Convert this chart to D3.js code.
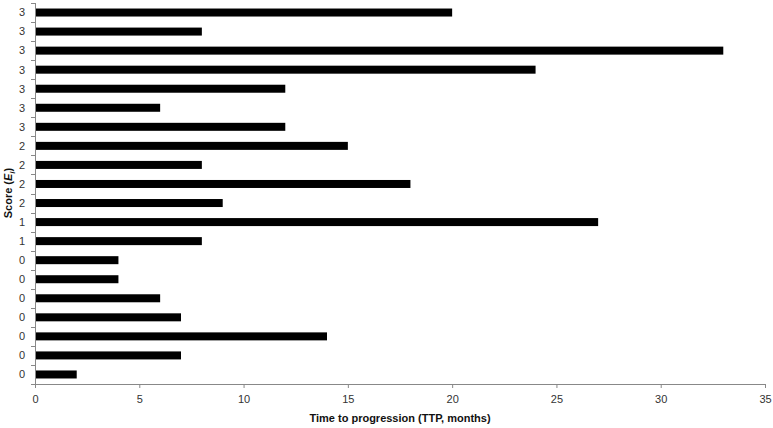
<!DOCTYPE html>
<html>
<head>
<meta charset="utf-8">
<script src="https://cdn.jsdelivr.net/npm/d3@7"></script>
<style>
  body { margin: 0; background: #fff; }
  svg text { font-family: "Liberation Sans", Arial, sans-serif; }
</style>
</head>
<body>
<div id="chart"></div>
<script>
// Bars listed from top to bottom
const scoreLabels = ["3", "3", "3", "3", "3", "3", "3", "2", "2", "2", "2", "1", "1", "0", "0", "0", "0", "0", "0", "0"];
const ttpValues = [20, 8, 33, 24, 12, 6, 12, 15, 8, 18, 9, 27, 8, 4, 4, 6, 7, 14, 7, 2];
const xTicks = [0, 5, 10, 15, 20, 25, 30, 35];

const width = 773, height = 428;
const margin = { top: 3, right: 8, bottom: 44, left: 35 };

const svg = d3.select("#chart").append("svg")
    .attr("width", width)
    .attr("height", height);

const x = d3.scaleLinear()
    .domain([0, 35])
    .range([margin.left, width - margin.right]);

const y = d3.scaleBand()
    .domain(d3.range(ttpValues.length))
    .range([margin.top, height - margin.bottom])
    .paddingInner(0.58)
    .paddingOuter(0.29);

// Bars
svg.append("g")
    .selectAll("rect")
    .data(ttpValues)
    .join("rect")
    .attr("x", x(0))
    .attr("y", (d, i) => y(i))
    .attr("width", d => x(d) - x(0))
    .attr("height", y.bandwidth())
    .attr("fill", "#000");

// Y axis with ticks at band boundaries
const yAxis = svg.append("g");
yAxis.append("line")
    .attr("x1", margin.left + 0.5).attr("x2", margin.left + 0.5)
    .attr("y1", margin.top).attr("y2", height - margin.bottom)
    .attr("stroke", "#888");
const step = y.step();
yAxis.selectAll("line.tick")
    .data(d3.range(ttpValues.length + 1))
    .join("line")
    .attr("class", "tick")
    .attr("x1", margin.left - 4).attr("x2", margin.left)
    .attr("y1", i => Math.round(margin.top + i * step) + 0.5)
    .attr("y2", i => Math.round(margin.top + i * step) + 0.5)
    .attr("stroke", "#888");
yAxis.selectAll("text")
    .data(scoreLabels)
    .join("text")
    .attr("x", 25)
    .attr("y", (d, i) => y(i) + y.bandwidth() / 2)
    .attr("dy", "0.35em")
    .attr("text-anchor", "end")
    .attr("font-size", 11)
    .attr("fill", "#333")
    .text(d => d);

// X axis
const xAxis = d3.axisBottom(x)
    .tickValues(xTicks)
    .tickSize(4)
    .tickSizeOuter(4)
    .tickPadding(7);
const gx = svg.append("g")
    .attr("transform", `translate(0,${height - margin.bottom})`)
    .call(xAxis);
gx.select(".domain").attr("stroke", "#888");
gx.selectAll(".tick line").attr("stroke", "#888");
gx.selectAll(".tick text")
    .attr("font-size", 11)
    .attr("font-family", "Liberation Sans, Arial, sans-serif")
    .attr("fill", "#333");

// Axis titles
svg.append("text")
    .attr("x", 400)
    .attr("y", 422)
    .attr("text-anchor", "middle")
    .attr("font-size", 11)
    .attr("font-weight", "bold")
    .attr("fill", "#111")
    .text("Time to progression (TTP, months)");

const yTitle = svg.append("text")
    .attr("transform", "translate(12,193) rotate(-90)")
    .attr("text-anchor", "middle")
    .attr("font-size", 11)
    .attr("font-weight", "bold")
    .attr("fill", "#111");
yTitle.append("tspan").text("Score (");
yTitle.append("tspan").attr("font-style", "italic").text("E");
yTitle.append("tspan").attr("font-style", "italic").attr("font-size", 8).attr("dy", 3).text("i");
yTitle.append("tspan").attr("dy", -3).text(")");
</script>
</body>
</html>
